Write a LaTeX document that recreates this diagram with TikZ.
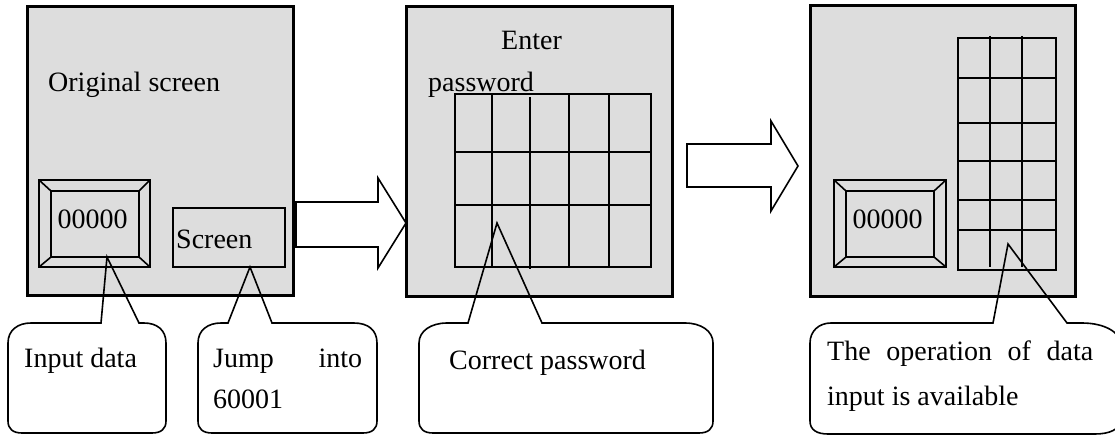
\documentclass[tikz,border=0pt]{standalone}
\usepackage{fontspec}
\setmainfont{Liberation Serif}
\definecolor{panelgray}{RGB}{221,221,221}
\begin{document}
\begin{tikzpicture}[x=1pt,y=-1pt,
  panel/.style={draw, line width=3pt, fill=panelgray},
  thinline/.style={line width=1.6pt, line join=miter},
  callout/.style={draw, line width=1.6pt, line join=miter},
  blockarrow/.style={draw, fill=white, line width=1.6pt, line join=miter},
  lbl/.style={font=\fontsize{28}{34}\selectfont, inner sep=0pt}]
\useasboundingbox (0,0) rectangle (1115,436);
\clip (0,0) rectangle (1115,436);

% panels
\draw[panel] (27,7) rectangle (293,295);
\draw[panel] (406,7) rectangle (672,296);
\draw[panel] (810,6) rectangle (1075,296);

% left bevel frame
\draw[thinline, fill=panelgray] (39,180) rectangle (150,267);
\draw[thinline] (51,191) rectangle (139,257);
\draw[thinline] (39,180) -- (51,191) (150,180) -- (139,191) (39,267) -- (51,257) (150,267) -- (139,257);
% screen button
\draw[thinline] (173,208) rectangle (285,267);

% middle grid
\draw[thinline] (455,94) rectangle (651,267);
\draw[thinline] (455,152) -- (651,152) (455,205) -- (651,205);
\draw[thinline] (492,94) -- (492,267) (530,97) -- (530,269) (569,94) -- (569,267) (609,94) -- (609,267);

% right bevel frame
\draw[thinline, fill=panelgray] (834,180) rectangle (946,267);
\draw[thinline] (846,191) rectangle (934,257);
\draw[thinline] (834,180) -- (846,191) (946,180) -- (934,191) (834,267) -- (846,257) (946,267) -- (934,257);

% right grid
\draw[thinline] (958,38) rectangle (1056,270);
\draw[thinline] (958,78) -- (1056,78) (958,123) -- (1056,123) (958,161) -- (1056,161) (958,200) -- (1056,200) (958,230) -- (1056,230);
\draw[thinline] (990,36) -- (990,267) (1022,36) -- (1022,267);

% block arrows
\draw[blockarrow] (296,202) -- (378,202) -- (378,178) -- (406,223) -- (378,268) -- (378,247) -- (296,247) -- cycle;
\draw[blockarrow] (687,144) -- (771,144) -- (771,121) -- (798,166) -- (771,211) -- (771,187) -- (687,187) -- cycle;

% callout tips
\coordinate (tipA) at (107,257);
\coordinate (tipB) at (250,267);
\coordinate (tipC) at (497,223);
\coordinate (tipD) at (1008,244);

% callouts
\draw[callout] (101,323) -- (tipA) -- (139,323) -- (144,323) .. controls (157,323) and (166,330) .. (166,343) -- (166,421) .. controls (166,429) and (161,433) .. (152,433) -- (22,433) .. controls (13,433) and (8,429) .. (8,421) -- (8,343) .. controls (8,330) and (18,323) .. (31,323) -- cycle;
\draw[callout] (228,323) -- (tipB) -- (272,323) -- (354,323) .. controls (368,323) and (377,330) .. (377,343) -- (377,421) .. controls (377,429) and (372,433) .. (363,433) -- (212,433) .. controls (203,433) and (198,429) .. (198,421) -- (198,343) .. controls (198,330) and (208,323) .. (221,323) -- cycle;
\draw[callout] (468,323) -- (tipC) -- (542,323) -- (685,323) .. controls (701,323) and (713,331) .. (713,343) -- (713,421) .. controls (713,429) and (708,433) .. (699,433) -- (433,433) .. controls (424,433) and (419,429) .. (419,421) -- (419,343) .. controls (419,331) and (431,323) .. (447,323) -- cycle;
\draw[callout] (993,323) -- (tipD) -- (1067,323) -- (1082,323) .. controls (1104,323) and (1120,332) .. (1120,343) -- (1120,421) .. controls (1120,429) and (1110,434) .. (1095,434) -- (828,434) .. controls (817,434) and (810,430) .. (810,421) -- (810,343) .. controls (810,331) and (819,323) .. (831,323) -- cycle;

% texts
\node[lbl, anchor=base west] (origtxt) at (48,91) {Original screen};
\node[lbl, anchor=base] (val1) at (92.5,228) {00000};
\node[lbl, anchor=base west] (scrtxt) at (176,248) {Screen};
\node[lbl, anchor=base west] (entertxt) at (501,50) {Enter};
\node[lbl, anchor=base west] (pwtxt) at (428,91) {password};
\node[lbl, anchor=base west] (inputtxt) at (24,367) {Input data};
\node[lbl, anchor=base west] (jump1) at (213,367) {\makebox[149pt][s]{Jump into}};
\node[lbl, anchor=base west] (jump2) at (213,408) {60001};
\node[lbl, anchor=base west] (corrtxt) at (449,369) {Correct password};
\node[lbl, anchor=base] (val2) at (887.5,228) {00000};
\node[lbl, anchor=base west] (op1) at (827,360) {\makebox[266pt][s]{The operation of data}};
\node[lbl, anchor=base west] (op2) at (827,405) {input is available};
\end{tikzpicture}
\end{document}
